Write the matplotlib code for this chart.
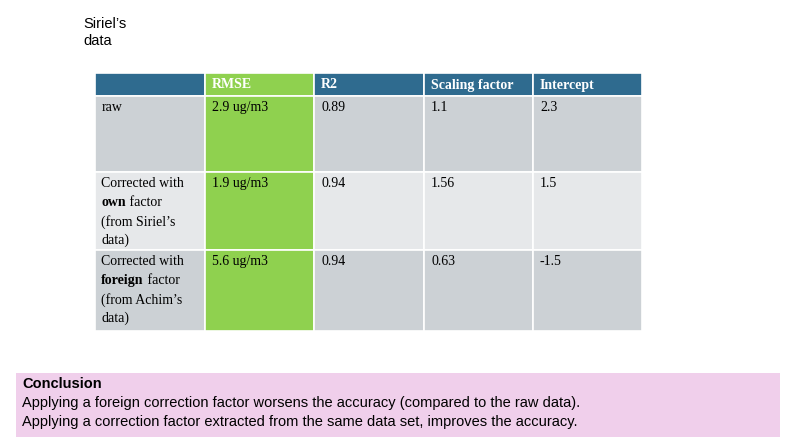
import matplotlib.pyplot as plt
from matplotlib.patches import Rectangle

columns = ["", "RMSE", "R2", "Scaling factor", "Intercept"]
row_labels = [
    [("raw", "normal")],
    [("Corrected with", "normal"), ("own", "bold"), (" factor", "normal"), ("(from Siriel\u2019s", "normal"), ("data)", "normal")],
    [("Corrected with", "normal"), ("foreign", "bold"), (" factor", "normal"), ("(from Achim\u2019s", "normal"), ("data)", "normal")],
]
rmse = ["2.9 ug/m3", "1.9 ug/m3", "5.6 ug/m3"]
r2 = ["0.89", "0.94", "0.94"]
scaling = ["1.1", "1.56", "0.63"]
intercept = ["2.3", "1.5", "-1.5"]

fig = plt.figure(figsize=(8, 4.45), dpi=100)
ax = fig.add_axes([0, 0, 1, 1])
ax.set_xlim(0, 800); ax.set_ylim(445, 0); ax.axis("off")

serif = ["Liberation Serif", "DejaVu Serif"]
ax.text(83, 17, "Siriel\u2019s\ndata", fontsize=10.5, va="top", family="Liberation Sans", linespacing=1.25)

xs = [95, 205, 314, 424, 533, 642]
ys = [73, 96, 172, 250, 331]
header_c = "#2f6b8f"; green = "#8fd14f"
body_c = ["#ccd1d5", "#e6e8ea", "#ccd1d5"]

for j in range(5):
    c = green if j == 1 else header_c
    ax.add_patch(Rectangle((xs[j], ys[0]), xs[j+1]-xs[j], ys[1]-ys[0], fc=c, ec="white", lw=1.2))
    ax.text(xs[j]+7, ys[0]+12, columns[j], color="white", fontsize=10, fontweight="bold", family=serif, va="center")

cols = [None, rmse, r2, scaling, intercept]
for i in range(3):
    for j in range(5):
        c = green if j == 1 else body_c[i]
        ax.add_patch(Rectangle((xs[j], ys[i+1]), xs[j+1]-xs[j], ys[i+2]-ys[i+1], fc=c, ec="white", lw=1.2))
        if j > 0:
            ax.text(xs[j]+7, ys[i+1]+5, cols[j][i], fontsize=10, family=serif, va="top")
    # first column
    parts = row_labels[i]
    y = ys[i+1]+5
    if len(parts) == 1:
        ax.text(xs[0]+7, y, parts[0][0], fontsize=10, family=serif, va="top")
    else:
        ax.text(xs[0]+6, y, parts[0][0], fontsize=10, family=serif, va="top")
        t = ax.text(xs[0]+6, y+19, parts[1][0], fontsize=10, family=serif, va="top", fontweight="bold")
        fig.canvas.draw()
        bb = t.get_window_extent()
        ax.text(xs[0]+6 + bb.width, y+19, parts[2][0], fontsize=10, family=serif, va="top")
        ax.text(xs[0]+6, y+38, parts[3][0], fontsize=10, family=serif, va="top")
        ax.text(xs[0]+6, y+57, parts[4][0], fontsize=10, family=serif, va="top")

ax.add_patch(Rectangle((16, 373), 764, 64, fc="#f0cfeb", ec="none"))
ax.text(22, 377, "Conclusion", fontsize=10.5, fontweight="bold", family="Liberation Sans", va="top")
ax.text(22, 396, "Applying a foreign correction factor worsens the accuracy (compared to the raw data).",
        fontsize=10.5, family="Liberation Sans", va="top")
ax.text(22, 415, "Applying a correction factor extracted from the same data set, improves the accuracy.",
        fontsize=10.5, family="Liberation Sans", va="top")

fig.savefig("out.png", dpi=100)
